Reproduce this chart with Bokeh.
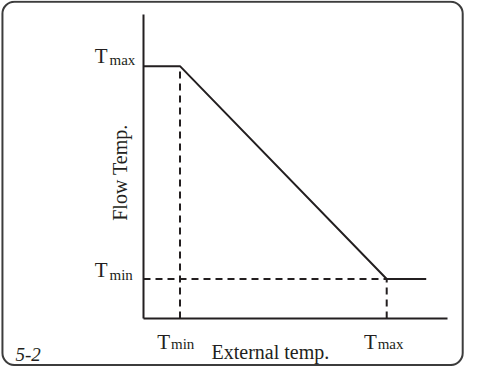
import math
from bokeh.plotting import figure
from bokeh.models import Range1d, BoxAnnotation
from bokeh.core.properties import value
from bokeh.embed import file_html
from bokeh.resources import INLINE

# ---- data (conceptual units: axes run 0..100) ----
axis_len_x = 100
axis_len_y = 100
ext_tmin = 12      # external temp T_min
ext_tmax = 80      # external temp T_max
ext_end = 93       # end of curve
flow_tmin = 13     # flow temp T_min
flow_tmax = 83     # flow temp T_max

curve_x = [0, ext_tmin, ext_tmax, ext_end]
curve_y = [flow_tmax, flow_tmax, flow_tmin, flow_tmin]

x_label = "External temp."
y_label = "Flow Temp."
fig_label = "5-2"
t_main = "T"
sub_min = "min"
sub_max = "max"

INK = "#231f20"
FONT = value("Liberation Serif")

p = figure(width=464, height=366, output_backend="svg", toolbar_location=None,
           x_range=Range1d(-47.04, 105.59), y_range=Range1d(-15.79, 104.6),
           min_border=0, x_axis_location=None, y_axis_location=None)
p.grid.visible = False
p.outline_line_color = None
p.background_fill_color = "white"
p.border_fill_color = "white"

# rounded frame
p.add_layout(BoxAnnotation(left=-46.4, right=105.0, top=104.2, bottom=-15.3,
                           fill_color=None, fill_alpha=0, line_color="#3c3c3c",
                           line_alpha=1.0, line_width=2, border_radius=12))

# axes
p.segment(x0=[0, 0], y0=[0, 0], x1=[0, axis_len_x], y1=[axis_len_y, 0],
          line_color=INK, line_width=2)

# dashed guides
p.segment(x0=[ext_tmin, 0, ext_tmax], y0=[0, flow_tmin, 0],
          x1=[ext_tmin, ext_tmax, ext_tmax], y1=[flow_tmax, flow_tmin, flow_tmin],
          line_color=INK, line_width=2, line_dash="7 5")

# curve
p.line(curve_x, curve_y, line_color=INK, line_width=2)

def tlabel(x, y, sub, tx, ty, sx, sy):
    p.text(x=[x], y=[y], text=[t_main], x_offset=tx, y_offset=ty,
           text_align="right", text_baseline="alphabetic",
           text_font=FONT, text_font_size="21px", text_color=INK)
    p.text(x=[x], y=[y], text=[sub], x_offset=sx, y_offset=sy,
           text_align="left", text_baseline="alphabetic",
           text_font=FONT, text_font_size="15px", text_color=INK)

# y-axis labels
tlabel(0, flow_tmax, sub_max, -36, -10, -34, -6)
tlabel(0, flow_tmin, sub_min, -36, -9, -34, -4)
# x-axis labels
tlabel(ext_tmin, 0, sub_min, -10, 24, -9, 26)
tlabel(ext_tmax, 0, sub_max, -10, 24, -9, 26)

# axis titles
p.text(x=[(ext_tmin + ext_tmax) / 2], y=[0], text=[x_label], x_offset=-13, y_offset=34,
       text_align="center", text_baseline="alphabetic",
       text_font=FONT, text_font_size="20px", text_color=INK)
p.text(x=[0], y=[(flow_tmin + flow_tmax) / 2], text=[y_label], x_offset=-24, y_offset=0,
       angle=math.pi / 2, text_align="center", text_baseline="middle",
       text_font=FONT, text_font_size="20px", text_color=INK)

# figure number
p.text(x=[-42.1], y=[-11.84], text=[fig_label], text_align="left", text_baseline="alphabetic",
       text_font=FONT, text_font_size="19px", text_font_style="italic", text_color=INK)

open("out.html", "w").write(file_html(p, INLINE))
